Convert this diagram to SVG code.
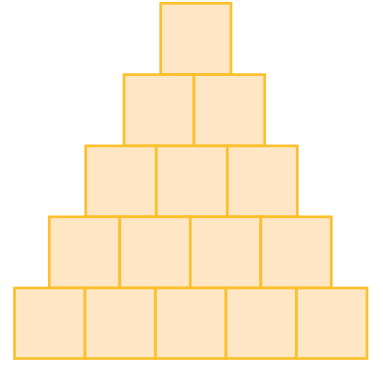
<svg xmlns="http://www.w3.org/2000/svg" width="383" height="367" viewBox="0 0 383 367">
<style>
.b{fill:#ffe7c6;stroke:#fbc02d;stroke-width:2.7}
</style>
<rect width="383" height="367" fill="#ffffff"/>
<g id="r1c1"><rect class="b" x="160.7" y="3.3" width="70.3" height="71.3"/></g>
<g id="r2c1"><rect class="b" x="124" y="74.6" width="70" height="71.3"/></g>
<g id="r2c2"><rect class="b" x="194" y="74.6" width="70.7" height="71.3"/></g>
<g id="r3c1"><rect class="b" x="85.7" y="145.9" width="70.6" height="70.9"/></g>
<g id="r3c2"><rect class="b" x="156.3" y="145.9" width="71" height="70.9"/></g>
<g id="r3c3"><rect class="b" x="227.3" y="145.9" width="70" height="70.9"/></g>
<g id="r4c1"><rect class="b" x="49.3" y="216.8" width="70.5" height="71.2"/></g>
<g id="r4c2"><rect class="b" x="119.8" y="216.8" width="70.5" height="71.2"/></g>
<g id="r4c3"><rect class="b" x="190.3" y="216.8" width="70.5" height="71.2"/></g>
<g id="r4c4"><rect class="b" x="260.8" y="216.8" width="70.5" height="71.2"/></g>
<g id="r5c1"><rect class="b" x="14.5" y="288" width="70.5" height="70.5"/></g>
<g id="r5c2"><rect class="b" x="85" y="288" width="70.5" height="70.5"/></g>
<g id="r5c3"><rect class="b" x="155.5" y="288" width="70.5" height="70.5"/></g>
<g id="r5c4"><rect class="b" x="226" y="288" width="70.5" height="70.5"/></g>
<g id="r5c5"><rect class="b" x="296.5" y="288" width="70.5" height="70.5"/></g>
<g id="connectors"></g>
</svg>
